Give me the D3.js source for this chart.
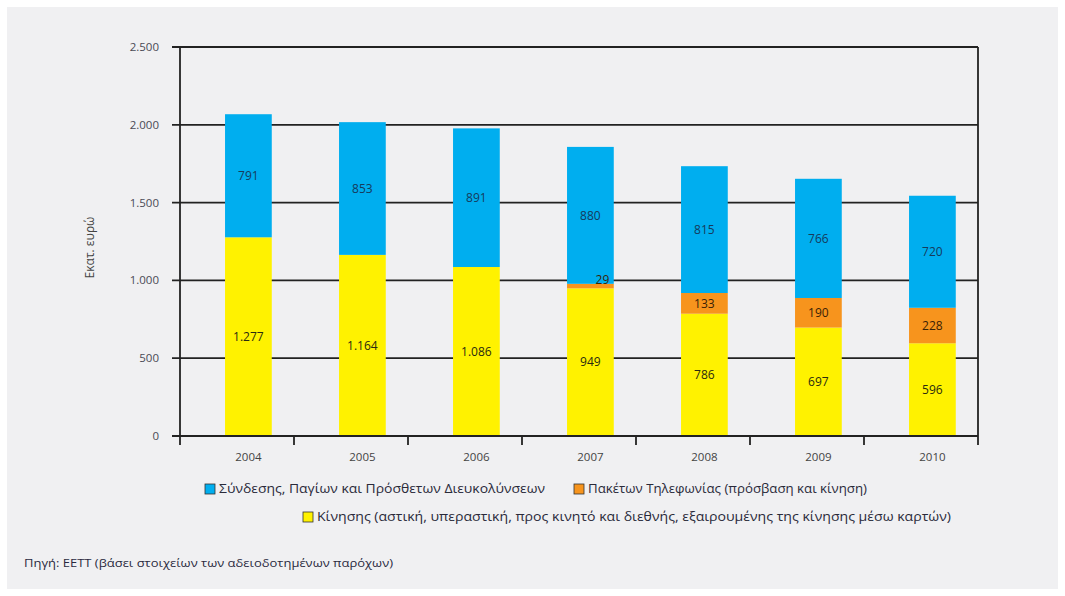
<!DOCTYPE html>
<html>
<head>
<meta charset="utf-8">
<script src="https://cdn.jsdelivr.net/npm/d3@7"></script>
<style>
  body { margin: 0; background: #ffffff; }
  svg { display: block; font-family: "Open Sans", "DejaVu Sans", sans-serif; }
</style>
</head>
<body>
<svg id="chart" width="1065" height="596"></svg>
<script>
// data
const years = ["2004", "2005", "2006", "2007", "2008", "2009", "2010"];
const kinisi = [1277, 1164, 1086, 949, 786, 697, 596];   // yellow
const paketa = [0, 0, 0, 29, 133, 190, 228];              // orange
const syndesi = [791, 853, 891, 880, 815, 766, 720];      // blue
const yTicks = [0, 500, 1000, 1500, 2000, 2500];
const seriesNames = [
  "Κίνησης (αστική, υπεραστική, προς κινητό και διεθνής, εξαιρουμένης της κίνησης μέσω καρτών)",
  "Πακέτων Τηλεφωνίας (πρόσβαση και κίνηση)",
  "Σύνδεσης, Παγίων και Πρόσθετων Διευκολύνσεων"
];
const colors = ["#fff200", "#f7941d", "#00aeef"];

const svg = d3.select("#chart");

// grey panel
svg.append("rect").attr("x", 7).attr("y", 7).attr("width", 1051).attr("height", 582)
  .attr("fill", "#f0f0f2");

const pLeft = 180, pRight = 978, pTop = 47, pBottom = 436;

const x = d3.scaleBand().domain(years).range([pLeft, pRight]).padding(0);
const y = d3.scaleLinear().domain([0, 2500]).range([pBottom, pTop]);

const fmt = v => d3.format(",")(v).replace(/,/g, ".");

// gridlines + y ticks
svg.append("g").selectAll("line").data(yTicks).join("line")
  .attr("x1", pLeft - 8).attr("x2", pRight)
  .attr("y1", d => y(d)).attr("y2", d => y(d))
  .attr("stroke", "#222").attr("stroke-width", 1.8);

svg.append("g").selectAll("text").data(yTicks).join("text")
  .attr("x", pLeft - 21).attr("y", d => y(d)).attr("dy", "0.35em")
  .attr("text-anchor", "end").attr("font-size", 11.5).attr("fill", "#4a4a55")
  .text(d => fmt(d));

// axes lines
svg.append("line").attr("x1", pLeft).attr("x2", pLeft).attr("y1", pTop).attr("y2", pBottom + 9)
  .attr("stroke", "#222").attr("stroke-width", 1.8);
svg.append("line").attr("x1", pRight).attr("x2", pRight).attr("y1", pTop).attr("y2", pBottom + 9)
  .attr("stroke", "#222").attr("stroke-width", 1.8);

// x ticks between categories
svg.append("g").selectAll("line").data(years.slice(1)).join("line")
  .attr("x1", d => x(d)).attr("x2", d => x(d))
  .attr("y1", pBottom).attr("y2", pBottom + 9)
  .attr("stroke", "#222").attr("stroke-width", 1.8);

// stacked bars
const rows = years.map((yr, i) => ({ year: yr, s0: kinisi[i], s1: paketa[i], s2: syndesi[i] }));
const stack = d3.stack().keys(["s0", "s1", "s2"])(rows);

const bw = x.bandwidth() * 0.41;
const bx = d => x(d.data.year) + x.bandwidth() * 0.395;

const layers = svg.append("g").selectAll("g").data(stack).join("g")
  .attr("fill", (d, i) => colors[i]);

layers.selectAll("rect").data(d => d).join("rect")
  .attr("x", bx)
  .attr("width", bw)
  .attr("y", d => y(d[1]))
  .attr("height", d => y(d[0]) - y(d[1]));

// bottom axis line (over bars)
svg.append("line").attr("x1", pLeft).attr("x2", pRight).attr("y1", pBottom).attr("y2", pBottom)
  .attr("stroke", "#222").attr("stroke-width", 1.8);

// value labels
const labelColors = ["#2a2a10", "#3a2206", "#163a5c"];
stack.forEach((layer, li) => {
  svg.append("g").selectAll("text").data(layer.filter(d => d[1] - d[0] > 0)).join("text")
    .attr("x", d => bx(d) + bw / 2 + (d[1] - d[0] < 60 ? 12 : 0))
    .attr("y", d => d[1] - d[0] < 60 ? y(d[1]) - 4 : y((d[0] + d[1]) / 2))
    .attr("dy", "0.35em")
    .attr("text-anchor", "middle").attr("font-size", 12)
    .attr("fill", labelColors[li])
    .text(d => fmt(d[1] - d[0]));
});

// x labels
svg.append("g").selectAll("text").data(years).join("text")
  .attr("x", d => x(d) + x.bandwidth() * 0.6).attr("y", pBottom + 25)
  .attr("text-anchor", "middle").attr("font-size", 11.5).attr("fill", "#444")
  .text(d => d);

// y title
svg.append("text")
  .attr("transform", `translate(94,${(pTop + pBottom) / 2 + 6}) rotate(-90)`)
  .attr("text-anchor", "middle").attr("font-size", 12).attr("fill", "#444")
  .text("Εκατ. ευρώ");

// legend
const legendItems = [
  { i: 2, x: 205, y: 489, w: 326 },
  { i: 1, x: 574, y: 489, w: 279 },
  { i: 0, x: 303, y: 517, w: 634 }
];
const lg = svg.append("g").selectAll("g").data(legendItems).join("g")
  .attr("transform", d => `translate(${d.x},${d.y})`);
lg.append("rect").attr("x", 0).attr("y", -5).attr("width", 10).attr("height", 10)
  .attr("fill", d => colors[d.i]).attr("stroke", "#333").attr("stroke-width", 0.8);
lg.append("text").attr("x", 14).attr("dy", "0.35em")
  .attr("font-size", 12.5).attr("fill", "#2a2a3a")
  .attr("textLength", d => d.w).attr("lengthAdjust", "spacingAndGlyphs")
  .text(d => seriesNames[d.i]);

// source
svg.append("text").attr("x", 24).attr("y", 563).attr("dy", "0.35em")
  .attr("font-size", 11.5).attr("fill", "#2a2a40")
  .attr("textLength", 369).attr("lengthAdjust", "spacingAndGlyphs")
  .text("Πηγή: ΕΕΤΤ (βάσει στοιχείων των αδειοδοτημένων παρόχων)");
</script>
</body>
</html>
